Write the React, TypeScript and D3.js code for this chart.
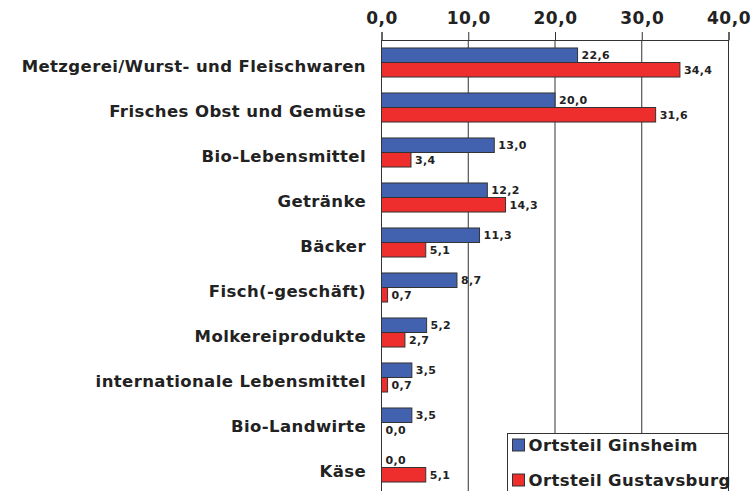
import { useEffect, useRef } from 'react';
import * as d3 from 'd3';

const categories = [
  'Metzgerei/Wurst- und Fleischwaren',
  'Frisches Obst und Gemüse',
  'Bio-Lebensmittel',
  'Getränke',
  'Bäcker',
  'Fisch(-geschäft)',
  'Molkereiprodukte',
  'internationale Lebensmittel',
  'Bio-Landwirte',
  'Käse',
];
const ginsheim = [22.6, 20.0, 13.0, 12.2, 11.3, 8.7, 5.2, 3.5, 3.5, 0.0];
const gustavsburg = [34.4, 31.6, 3.4, 14.3, 5.1, 0.7, 2.7, 0.7, 0.0, 5.1];
const seriesNames = ['Ortsteil Ginsheim', 'Ortsteil Gustavsburg'];
const seriesColors = ['#4262b0', '#ee2d2d'];
const xTicks = [0, 10, 20, 30, 40];

const fmt = (v: number) => v.toFixed(1).replace('.', ',');
const font = '"DejaVu Sans", Verdana, sans-serif';

export default function App() {
  const ref = useRef<SVGSVGElement>(null);

  useEffect(() => {
    const svg = d3.select(ref.current);
    svg.selectAll('*').remove();

    const left = 381.5;
    const right = 728.5;
    const top = 40;
    const bottom = 490;

    const x = d3.scaleLinear().domain([0, 40]).range([left, right]);
    const y = d3.scaleBand().domain(categories).range([top, bottom]);
    const inner = d3
      .scaleBand()
      .domain(['0', '1'])
      .range([0, y.bandwidth()])
      .paddingOuter(0.55)
      .paddingInner(0);

    // gridlines
    svg
      .append('g')
      .selectAll('line')
      .data(xTicks.slice(1))
      .enter()
      .append('line')
      .attr('x1', d => x(d))
      .attr('x2', d => x(d))
      .attr('y1', top)
      .attr('y2', 491)
      .attr('stroke', '#333')
      .attr('stroke-width', 1);

    // top axis
    const axis = d3
      .axisTop(x)
      .tickValues(xTicks)
      .tickSize(8)
      .tickPadding(8)
      .tickFormat(d => fmt(d as number));
    const ax = svg
      .append('g')
      .attr('transform', `translate(0, ${top})`)
      .call(axis);
    ax.select('.domain').attr('stroke', '#333');
    ax.selectAll('.tick line').attr('stroke', '#333');
    ax.selectAll('.tick text')
      .style('font-family', font)
      .style('font-weight', 'bold')
      .style('font-size', '17px')
      .style('letter-spacing', '0.5px')
      .attr('fill', '#222');

    const series = [ginsheim, gustavsburg];
    series.forEach((vals, s) => {
      const g = svg.append('g');
      g.selectAll('rect')
        .data(vals)
        .enter()
        .append('rect')
        .attr('x', x(0))
        .attr('y', (d, i) => y(categories[i])! + inner(String(s))!)
        .attr('width', d => x(d) - x(0))
        .attr('height', inner.bandwidth())
        .attr('fill', seriesColors[s])
        .attr('stroke', '#333')
        .attr('stroke-width', d => (d > 0 ? 1 : 0));
      g.selectAll('text')
        .data(vals)
        .enter()
        .append('text')
        .attr('x', d => x(d) + 4)
        .attr('y', (d, i) => y(categories[i])! + inner(String(s))! + inner.bandwidth() / 2)
        .attr('dy', '0.35em')
        .style('font-family', font)
        .style('font-weight', 'bold')
        .style('font-size', '11px')
        .style('letter-spacing', '0.3px')
        .attr('fill', '#222')
        .text(d => fmt(d));
    });

    // left axis line
    svg
      .append('line')
      .attr('x1', x(0))
      .attr('x2', x(0))
      .attr('y1', top)
      .attr('y2', 491)
      .attr('stroke', '#333');

    // category labels
    svg
      .append('g')
      .selectAll('text')
      .data(categories)
      .enter()
      .append('text')
      .attr('x', 366)
      .attr('y', d => y(d)! + y.bandwidth() / 2 + 4)
      .attr('text-anchor', 'end')
      .attr('dy', '0.35em')
      .style('font-family', font)
      .style('font-weight', 'bold')
      .style('font-size', '16.5px')
      .style('letter-spacing', '0.4px')
      .attr('fill', '#222')
      .text(d => d);

    // legend
    const lg = svg.append('g').attr('transform', 'translate(507.5, 433.5)');
    lg.append('rect')
      .attr('width', 221)
      .attr('height', 60)
      .attr('fill', 'white')
      .attr('stroke', '#333');
    seriesNames.forEach((name, i) => {
      lg.append('rect')
        .attr('x', 5)
        .attr('y', 5.5 + i * 35)
        .attr('width', 12)
        .attr('height', 12)
        .attr('fill', seriesColors[i])
        .attr('stroke', '#333');
      lg.append('text')
        .attr('x', 21)
        .attr('y', 12 + i * 34.5)
        .attr('dy', '0.35em')
        .style('font-family', font)
        .style('font-weight', 'bold')
        .style('font-size', '16.5px')
        .style('letter-spacing', '0.4px')
        .attr('fill', '#222')
        .text(name);
    });
  }, []);

  return (
    <svg
      ref={ref}
      width={753}
      height={491}
      style={{ position: 'absolute', left: 0, top: 0, background: 'white' }}
    />
  );
}
